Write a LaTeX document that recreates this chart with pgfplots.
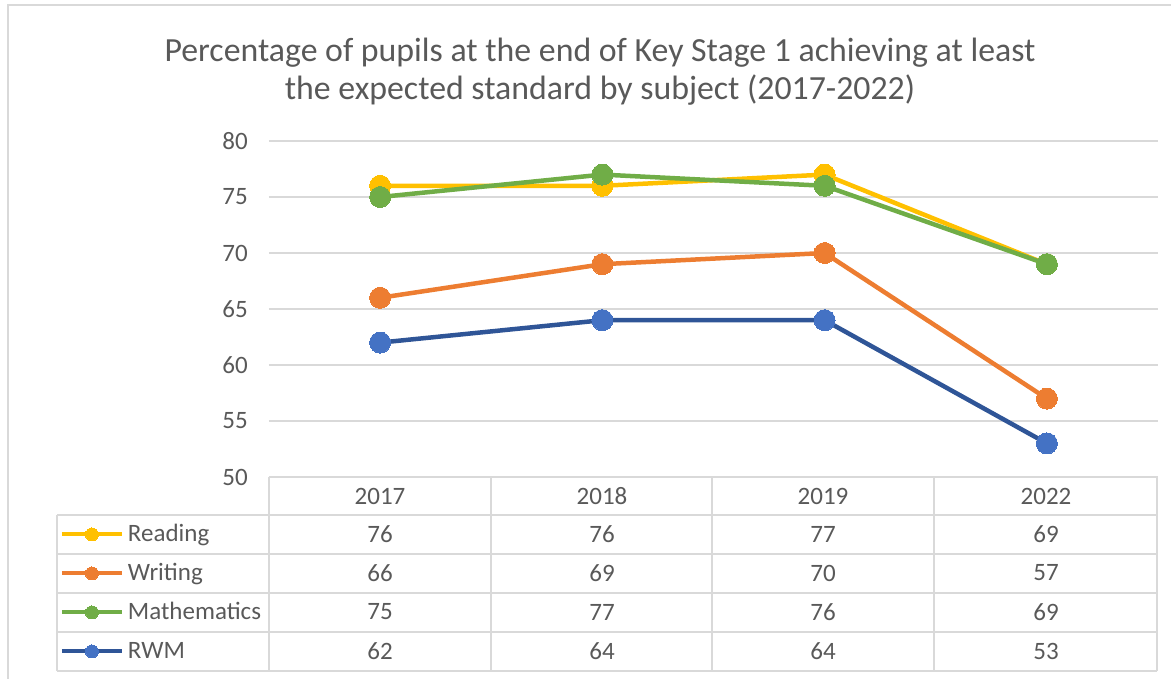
\documentclass[border=0pt]{standalone}
\usepackage{fontspec}
\setmainfont{Carlito}
\usepackage{pgfplots}
\pgfplotsset{compat=1.18}
\definecolor{cRead}{HTML}{FFC000}
\definecolor{cWrite}{HTML}{ED7D31}
\definecolor{cMath}{HTML}{70AD47}
\definecolor{cRWM}{HTML}{2F5597}
\definecolor{cRWMm}{HTML}{4472C4}
\definecolor{tgray}{HTML}{595959}
\definecolor{gridgray}{HTML}{D9D9D9}
\begin{document}
\begin{tikzpicture}[x=1pt,y=1pt]
\path[use as bounding box] (0,0) rectangle (1171,679);
\draw[gridgray, line width=1.5pt] (8,0) -- (8,674) -- (1171,674);
\node[align=center, font=\fontsize{33.8}{38}\selectfont, text=tgray] at (600,607.5) {Percentage of pupils at the end of Key Stage 1 achieving at least\\the expected standard by subject (2017-2022)};
\begin{axis}[
  at={(269pt,202pt)}, anchor=south west, scale only axis,
  width=889pt, height=336pt,
  xmin=-0.5, xmax=3.5, ymin=50, ymax=80,
  ytick={50,55,...,80}, xtick=\empty,
  axis line style={draw=none},
  ymajorgrids, grid style={draw=gridgray, line width=1.5pt},
  major tick length=0pt,
  /pgf/number format/assume math mode=true,
  yticklabel style={font=\fontsize{25}{25}\selectfont, text=tgray, anchor=east, inner sep=0pt, xshift=-21pt},
  clip=false,
  every axis plot/.append style={line width=4.5pt, mark=*, mark size=10.5pt},
  legend cell align=left,
  legend image code/.code={\draw[mark repeat=2,mark phase=2,#1, line width=4pt, mark size=6.5pt] plot coordinates {(0pt,0pt) (30pt,0pt) (60pt,0pt)};},
  legend style={at={(-0.2351,-0.1131)}, anchor=north west, draw=none, fill=none,
    inner sep=0pt, outer sep=0pt, row sep=0pt, column sep=4pt,
    font=\fontsize{25}{25}\selectfont, text=tgray,
    nodes={inner sep=0pt, text height=27pt, text depth=12pt}},
]
\addplot[cRead, mark options={fill=cRead, draw=cRead, line width=0pt}] coordinates {(0,76) (1,76) (2,77) (3,69)};
\addlegendentry{Reading}
\addplot[cWrite, mark options={fill=cWrite, draw=cWrite, line width=0pt}] coordinates {(0,66) (1,69) (2,70) (3,57)};
\addlegendentry{Writing}
\addplot[cMath, mark options={fill=cMath, draw=cMath, line width=0pt}] coordinates {(0,75) (1,77) (2,76) (3,69)};
\addlegendentry{Mathematics}
\addplot[cRWM, mark options={fill=cRWMm, draw=cRWMm, line width=0pt}] coordinates {(0,62) (1,64) (2,64) (3,53)};
\addlegendentry{RWM}
\end{axis}
% data table grid
\begin{scope}[gridgray, line width=1.5pt]
\draw (269,202) -- (269,8);
\foreach \x in {491,712,934,1157} \draw (\x,202) -- (\x,8);
\draw (269,202) -- (1157,202);
\foreach \y in {164,125,86,47,8} \draw (57,\y) -- (1157,\y);
\draw (57,164) -- (57,8);
\end{scope}
\begin{scope}[font=\fontsize{25}{25}\selectfont, text=tgray]
\node at (380,183) {2017};
\node at (602,183) {2018};
\node at (823,183) {2019};
\node at (1046,183) {2022};
\node at (380,145) {76}; \node at (602,145) {76}; \node at (823,145) {77}; \node at (1046,145) {69};
\node at (380,106) {66}; \node at (602,106) {69}; \node at (823,106) {70}; \node at (1046,106) {57};
\node at (380,67) {75}; \node at (602,67) {77}; \node at (823,67) {76}; \node at (1046,67) {69};
\node at (380,28) {62}; \node at (602,28) {64}; \node at (823,28) {64}; \node at (1046,28) {53};
\end{scope}
\end{tikzpicture}
\end{document}
